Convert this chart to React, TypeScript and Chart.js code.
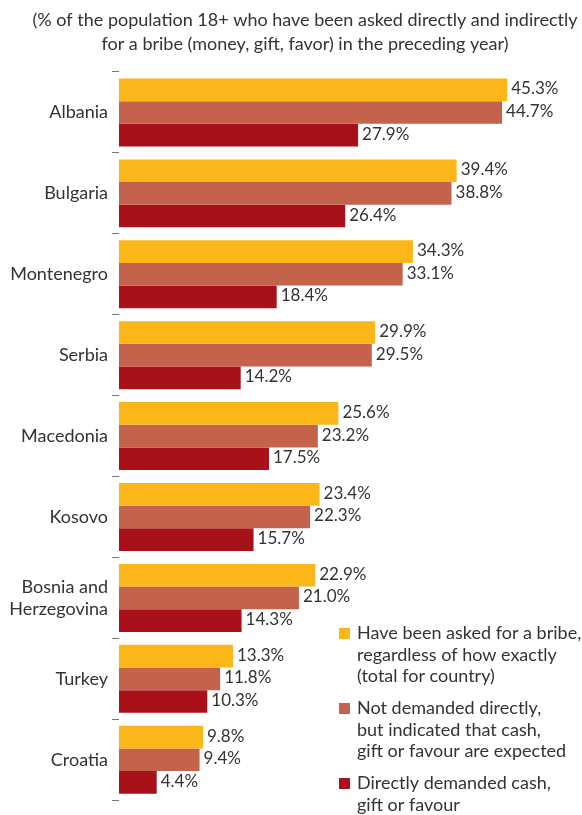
import React, { useEffect, useRef } from "react";
import { Chart, registerables } from "chart.js";

Chart.register(...registerables);

const countries: (string | string[])[] = [
  "Albania",
  "Bulgaria",
  "Montenegro",
  "Serbia",
  "Macedonia",
  "Kosovo",
  ["Bosnia and", "Herzegovina"],
  "Turkey",
  "Croatia",
];
const askedTotal = [45.3, 39.4, 34.3, 29.9, 25.6, 23.4, 22.9, 13.3, 9.8];
const indirect = [44.7, 38.8, 33.1, 29.5, 23.2, 22.3, 21.0, 11.8, 9.4];
const direct = [27.9, 26.4, 18.4, 14.2, 17.5, 15.7, 14.3, 10.3, 4.4];

const seriesLabels: string[][] = [
  ["Have been asked for a bribe,", "regardless of how exactly", "(total for country)"],
  ["Not demanded directly,", "but indicated that cash,", "gift or favour are expected"],
  ["Directly demanded cash,", "gift or favour"],
];
const titleLines = [
  "(% of the population 18+ who have been asked directly and indirectly",
  "for a bribe (money, gift, favor) in the preceding year)",
];

const COLORS = ["#FBB619", "#C5624B", "#A8101A"];
const FONT = "Lato, 'Open Sans', sans-serif";
const TEXT = "#333333";

export default function App() {
  const ref = useRef<HTMLCanvasElement | null>(null);
  useEffect(() => {
    if (!ref.current) return;
    const valueLabels = {
      id: "valueLabels",
      afterDatasetsDraw(chart: any) {
        const ctx = chart.ctx;
        ctx.save();
        ctx.font = `17px ${FONT}`;
        ctx.fillStyle = TEXT;
        ctx.textAlign = "left";
        ctx.textBaseline = "middle";
        chart.data.datasets.forEach((ds: any, di: number) => {
          const meta = chart.getDatasetMeta(di);
          meta.data.forEach((bar: any, i: number) => {
            ctx.fillText(ds.data[i].toFixed(1) + "%", bar.x + 4, bar.y - 1);
          });
        });
        ctx.restore();
      },
    };
    const decor = {
      id: "decor",
      afterDraw(chart: any) {
        const ctx = chart.ctx;
        ctx.save();
        ctx.fillStyle = TEXT;
        ctx.font = `18px ${FONT}`;
        ctx.textAlign = "center";
        ctx.textBaseline = "middle";
        ctx.fillText(titleLines[0], 305, 20);
        ctx.fillText(titleLines[1], 305, 44);
        // legend
        ctx.font = `18px ${FONT}`;
        ctx.textAlign = "left";
        const starts = [633, 708, 783];
        seriesLabels.forEach((lines, k) => {
          const y0 = starts[k];
          ctx.fillStyle = COLORS[k];
          ctx.fillRect(339, y0 - 5, 11, 11);
          ctx.fillStyle = TEXT;
          lines.forEach((ln, j) => ctx.fillText(ln, 357, y0 + j * 21.7));
        });
        ctx.restore();
      },
    };
    const chart = new Chart(ref.current, {
      type: "bar",
      data: {
        labels: countries,
        datasets: [
          { label: seriesLabels[0].join(" "), data: askedTotal, backgroundColor: COLORS[0] },
          { label: seriesLabels[1].join(" "), data: indirect, backgroundColor: COLORS[1] },
          { label: seriesLabels[2].join(" "), data: direct, backgroundColor: COLORS[2] },
        ],
      },
      options: {
        indexAxis: "y",
        responsive: false,
        animation: false,
        datasets: { bar: { categoryPercentage: 0.84, barPercentage: 1, borderWidth: 0 } },
        layout: { padding: { top: 72, bottom: 14, left: 0, right: 34.5 } },
        plugins: { legend: { display: false }, tooltip: { enabled: false }, title: { display: false } },
        scales: {
          x: { display: false, min: 0, max: 50 },
          y: {
            afterFit(scale: any) {
              scale.width = 119;
            },
            border: { display: false },
            grid: { drawOnChartArea: false, offset: true, tickLength: 7, color: "#777", lineWidth: 1 },
            ticks: { padding: 4, color: TEXT, font: { family: FONT, size: 18 } },
          },
        },
      },
      plugins: [valueLabels, decor],
    });
    return () => chart.destroy();
  }, []);
  return (
    <div style={{ position: "absolute", left: 0, top: 0, width: 582, height: 815, background: "#fff" }}>
      <canvas ref={ref} width={582} height={815} style={{ display: "block" }} />
    </div>
  );
}
